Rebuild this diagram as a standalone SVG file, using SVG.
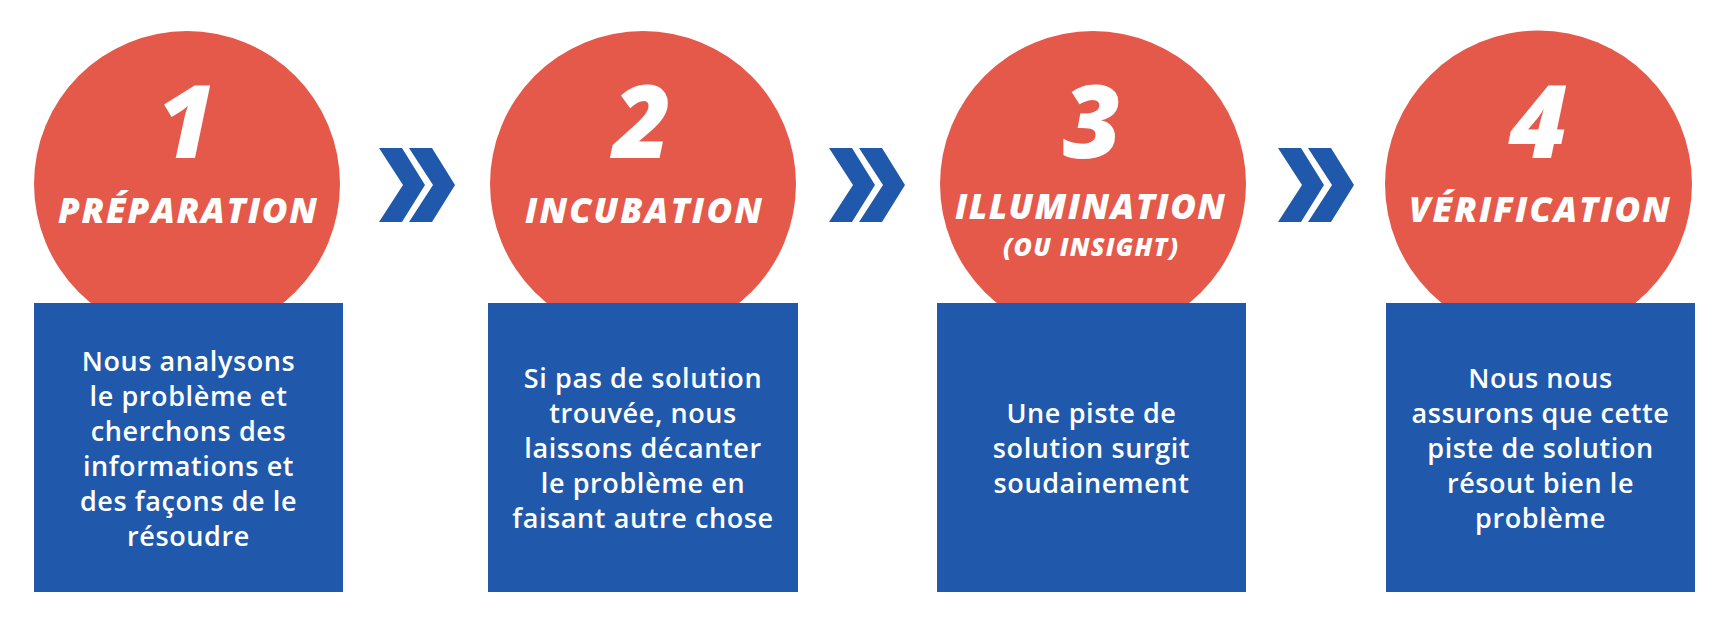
<svg xmlns="http://www.w3.org/2000/svg" width="1729" height="625" viewBox="0 0 1729 625">
<style>
.circ{fill:#E4594A}
.box{fill:#2059AB}
.num{font-family:"Open Sans","Liberation Sans",sans-serif;font-weight:800;font-style:italic;font-size:101px;fill:#fff;text-anchor:middle}
.head{font-family:"Open Sans","Liberation Sans",sans-serif;font-weight:800;font-style:italic;font-size:35px;fill:#fff;text-anchor:middle}
.sub{font-family:"Open Sans","Liberation Sans",sans-serif;font-weight:800;font-style:italic;font-size:25px;fill:#fff;text-anchor:middle}
.body{font-family:"Open Sans","Liberation Sans",sans-serif;font-weight:600;font-size:27px;fill:#fff;text-anchor:middle;letter-spacing:0.6px}
.chev{fill:#2059AB}
</style>
<defs>
<polygon id="chv" points="0,0 23,0 46,37 23,74 0,74 24,37"/>
</defs>
<rect width="1729" height="625" fill="#fff"/>
<g id="connectors">
<g class="chev">
<use href="#chv" x="379" y="148"/>
<use href="#chv" x="409" y="148"/>
<use href="#chv" x="829" y="148"/>
<use href="#chv" x="859" y="148"/>
<use href="#chv" x="1278" y="148"/>
<use href="#chv" x="1308" y="148"/>
</g>
</g>
<g id="step1">
<circle class="circ" cx="187" cy="184" r="153"/>
<text class="num" x="186" y="158">1</text>
<text class="head" x="187.5" y="222.5" textLength="259" lengthAdjust="spacing">PRÉPARATION</text>
<rect class="box" x="34" y="303" width="309" height="289"/>
<text class="body" x="188.5" y="371">Nous analysons</text>
<text class="body" x="188.5" y="406">le problème et</text>
<text class="body" x="188.5" y="441">cherchons des</text>
<text class="body" x="188.5" y="476">informations et</text>
<text class="body" x="188.5" y="511">des façons de le</text>
<text class="body" x="188.5" y="546">résoudre</text>
</g>
<g id="step2">
<circle class="circ" cx="643" cy="184" r="153"/>
<text class="num" x="642" y="158">2</text>
<text class="head" x="643.5" y="223" textLength="237" lengthAdjust="spacing">INCUBATION</text>
<rect class="box" x="488" y="303" width="310" height="289"/>
<text class="body" x="643" y="388">Si pas de solution</text>
<text class="body" x="643" y="423">trouvée, nous</text>
<text class="body" x="643" y="458">laissons décanter</text>
<text class="body" x="643" y="493">le problème en</text>
<text class="body" x="643" y="528">faisant autre chose</text>
</g>
<g id="step3">
<circle class="circ" cx="1093" cy="184" r="153"/>
<text class="num" x="1092" y="158">3</text>
<text class="head" x="1090" y="218.5" textLength="270" lengthAdjust="spacing">ILLUMINATION</text>
<text class="sub" x="1090.5" y="256" textLength="175" lengthAdjust="spacing">(OU INSIGHT)</text>
<rect class="box" x="937" y="303" width="309" height="289"/>
<text class="body" x="1091.5" y="423">Une piste de</text>
<text class="body" x="1091.5" y="458">solution surgit</text>
<text class="body" x="1091.5" y="493">soudainement</text>
</g>
<g id="step4">
<circle class="circ" cx="1538.5" cy="184" r="153.5"/>
<text class="num" x="1538" y="158">4</text>
<text class="head" x="1539.5" y="222" textLength="261" lengthAdjust="spacing">VÉRIFICATION</text>
<rect class="box" x="1386" y="303" width="309" height="289"/>
<text class="body" x="1540.5" y="388">Nous nous</text>
<text class="body" x="1540.5" y="423">assurons que cette</text>
<text class="body" x="1540.5" y="458">piste de solution</text>
<text class="body" x="1540.5" y="493">résout bien le</text>
<text class="body" x="1540.5" y="528">problème</text>
</g>
</svg>
